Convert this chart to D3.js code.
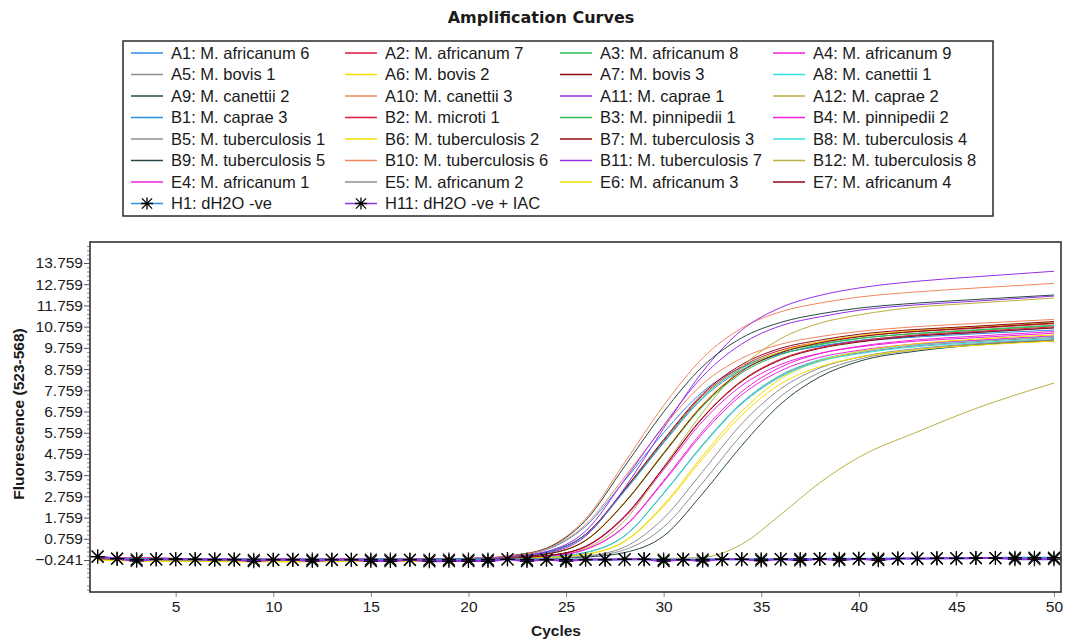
<!DOCTYPE html>
<html>
<head>
<meta charset="utf-8">
<script src="https://cdn.jsdelivr.net/npm/d3@7"></script>
<style>
  body { margin: 0; background: #fff; }
  text { font-family: "Liberation Sans", Arial, sans-serif; fill: #1a1a1a; }
</style>
</head>
<body>
<svg id="chart" width="1066" height="641"></svg>
<script>
"use strict";

const cycles = [1, 5, 10, 15, 20, 22, 24, 26, 28, 30, 32, 34, 36, 38, 40, 43, 46, 50];

const sampleNames = [
  'A1: M. africanum 6', 'A2: M. africanum 7', 'A3: M. africanum 8', 'A4: M. africanum 9',
  'A5: M. bovis 1', 'A6: M. bovis 2', 'A7: M. bovis 3', 'A8: M. canettii 1',
  'A9: M. canettii 2', 'A10: M. canettii 3', 'A11: M. caprae 1', 'A12: M. caprae 2',
  'B1: M. caprae 3', 'B2: M. microti 1', 'B3: M. pinnipedii 1', 'B4: M. pinnipedii 2',
  'B5: M. tuberculosis 1', 'B6: M. tuberculosis 2', 'B7: M. tuberculosis 3', 'B8: M. tuberculosis 4',
  'B9: M. tuberculosis 5', 'B10: M. tuberculosis 6', 'B11: M. tuberculosis 7', 'B12: M. tuberculosis 8',
  'E4: M. africanum 1', 'E5: M. africanum 2', 'E6: M. africanum 3', 'E7: M. africanum 4'
];

// fluorescence per sample, one value per entry of `cycles`
const sampleValues = [
  [-0.14, -0.19, -0.20, -0.21, -0.19, -0.07, 0.25, 1.35, 3.50, 5.76, 7.69, 8.85, 9.49, 9.83, 10.06, 10.27, 10.42, 10.60],
  [-0.18, -0.22, -0.23, -0.22, -0.20, -0.09, 0.12, 0.96, 3.06, 5.38, 7.52, 8.88, 9.65, 10.03, 10.30, 10.53, 10.68, 10.90],
  [-0.12, -0.17, -0.18, -0.19, -0.17, -0.10, 0.12, 0.95, 3.03, 5.33, 7.45, 8.80, 9.56, 9.94, 10.21, 10.43, 10.58, 10.80],
  [-0.14, -0.19, -0.20, -0.21, -0.19, -0.15, -0.04, 0.38, 1.77, 4.01, 6.30, 7.98, 8.98, 9.50, 9.80, 10.08, 10.24, 10.45],
  [-0.18, -0.22, -0.23, -0.22, -0.20, -0.17, -0.15, -0.07, 0.24, 1.31, 3.40, 5.67, 7.47, 8.60, 9.22, 9.67, 9.92, 10.12],
  [-0.25, -0.30, -0.32, -0.31, -0.28, -0.12, 0.04, 0.69, 2.48, 4.82, 7.10, 8.69, 9.57, 10.04, 10.33, 10.59, 10.76, 10.98],
  [-0.12, -0.17, -0.18, -0.19, -0.17, -0.09, 0.13, 0.97, 3.09, 5.43, 7.59, 8.97, 9.74, 10.12, 10.40, 10.63, 10.78, 11.00],
  [-0.14, -0.19, -0.20, -0.21, -0.19, -0.15, -0.10, 0.11, 0.90, 2.92, 5.20, 7.18, 8.48, 9.20, 9.57, 9.91, 10.10, 10.30],
  [-0.18, -0.22, -0.23, -0.22, -0.20, -0.16, -0.15, -0.10, 0.11, 0.89, 2.89, 5.15, 7.11, 8.39, 9.12, 9.61, 9.89, 10.09],
  [-0.12, -0.17, -0.18, -0.19, -0.17, -0.05, 0.33, 1.70, 4.35, 7.04, 9.28, 10.69, 11.46, 11.87, 12.15, 12.40, 12.58, 12.80],
  [-0.14, -0.19, -0.20, -0.21, -0.19, -0.11, 0.08, 0.88, 3.15, 5.96, 8.64, 10.59, 11.66, 12.23, 12.58, 12.90, 13.11, 13.37],
  [-0.18, -0.22, -0.23, -0.22, -0.20, -0.15, -0.06, 0.31, 1.61, 4.15, 6.71, 8.85, 10.19, 10.92, 11.31, 11.68, 11.87, 12.11],
  [-0.12, -0.17, -0.18, -0.19, -0.17, -0.10, 0.12, 0.94, 3.00, 5.28, 7.38, 8.72, 9.47, 9.84, 10.11, 10.34, 10.49, 10.70],
  [-0.14, -0.19, -0.20, -0.21, -0.19, -0.15, -0.04, 0.40, 1.82, 4.12, 6.48, 8.21, 9.23, 9.77, 10.08, 10.37, 10.53, 10.75],
  [-0.18, -0.22, -0.23, -0.22, -0.20, -0.12, 0.04, 0.67, 2.44, 4.75, 7.00, 8.57, 9.44, 9.90, 10.19, 10.45, 10.61, 10.83],
  [-0.12, -0.17, -0.18, -0.19, -0.17, -0.15, -0.07, 0.25, 1.33, 3.44, 5.72, 7.54, 8.68, 9.31, 9.64, 9.95, 10.12, 10.33],
  [-0.14, -0.19, -0.20, -0.21, -0.19, -0.15, -0.10, 0.11, 0.90, 2.90, 5.18, 7.14, 8.44, 9.16, 9.52, 9.86, 10.05, 10.25],
  [-0.25, -0.30, -0.32, -0.31, -0.28, -0.15, -0.12, 0.03, 0.65, 2.36, 4.67, 6.77, 8.30, 9.14, 9.58, 9.96, 10.17, 10.37],
  [-0.12, -0.17, -0.18, -0.19, -0.17, -0.12, 0.04, 0.68, 2.46, 4.79, 7.06, 8.65, 9.53, 9.99, 10.28, 10.54, 10.71, 10.93],
  [-0.14, -0.19, -0.20, -0.21, -0.19, -0.15, -0.10, 0.11, 0.89, 2.89, 5.15, 7.11, 8.39, 9.12, 9.48, 9.82, 10.00, 10.20],
  [-0.18, -0.22, -0.23, -0.22, -0.20, -0.06, 0.31, 1.62, 4.17, 6.74, 8.88, 10.23, 10.96, 11.36, 11.63, 11.87, 12.04, 12.25],
  [-0.12, -0.17, -0.18, -0.19, -0.17, -0.07, 0.28, 1.42, 3.67, 6.04, 8.05, 9.27, 9.93, 10.29, 10.53, 10.76, 10.91, 11.10],
  [-0.14, -0.19, -0.20, -0.21, -0.19, -0.09, 0.16, 1.12, 3.54, 6.10, 8.42, 9.94, 10.80, 11.22, 11.53, 11.79, 11.96, 12.20],
  [-0.22, -0.26, -0.27, -0.26, -0.24, -0.20, -0.20, -0.20, -0.20, -0.17, -0.12, 0.50, 1.90, 3.40, 4.60, 5.80, 6.90, 8.10],
  [-0.12, -0.17, -0.18, -0.19, -0.17, -0.15, -0.07, 0.26, 1.35, 3.50, 5.83, 7.69, 8.85, 9.49, 9.83, 10.14, 10.31, 10.53],
  [-0.14, -0.19, -0.20, -0.21, -0.19, -0.15, -0.15, -0.05, 0.37, 1.73, 3.93, 6.18, 7.83, 8.81, 9.32, 9.73, 9.95, 10.15],
  [-0.25, -0.30, -0.32, -0.31, -0.28, -0.15, -0.12, 0.03, 0.63, 2.29, 4.54, 6.58, 8.06, 8.87, 9.31, 9.68, 9.88, 10.08],
  [-0.18, -0.22, -0.23, -0.22, -0.20, -0.15, -0.04, 0.40, 1.82, 4.10, 6.45, 8.17, 9.19, 9.73, 10.03, 10.32, 10.48, 10.70]
];

const controlNames = ['H1: dH2O -ve', 'H11: dH2O -ve + IAC'];
const controlCycles = [
  1, 2, 3, 4, 5, 6, 7, 8, 9, 10, 11, 12, 13, 14, 15, 16, 17, 18, 19, 20, 21, 22, 23, 24, 25,
  26, 27, 28, 29, 30, 31, 32, 33, 34, 35, 36, 37, 38, 39, 40, 41, 42, 43, 44, 45, 46, 47, 48, 49, 50
];
const h1Values = [
  -0.08, -0.18, -0.21, -0.21, -0.20, -0.21, -0.22, -0.22, -0.23, -0.23,
  -0.23, -0.22, -0.23, -0.23, -0.22, -0.22, -0.23, -0.23, -0.22, -0.22,
  -0.22, -0.21, -0.22, -0.22, -0.22, -0.22, -0.22, -0.21, -0.21, -0.22,
  -0.22, -0.21, -0.21, -0.21, -0.20, -0.20, -0.19, -0.19, -0.18, -0.18,
  -0.18, -0.17, -0.17, -0.16, -0.16, -0.15, -0.15, -0.13, -0.13, -0.13
];
const h11Values = [
  -0.08, -0.18, -0.28, -0.21, -0.20, -0.21, -0.22, -0.22, -0.30, -0.23,
  -0.23, -0.29, -0.23, -0.23, -0.29, -0.29, -0.23, -0.30, -0.29, -0.29,
  -0.29, -0.21, -0.29, -0.22, -0.29, -0.22, -0.22, -0.21, -0.21, -0.29,
  -0.22, -0.28, -0.21, -0.21, -0.27, -0.20, -0.26, -0.19, -0.25, -0.18,
  -0.25, -0.17, -0.17, -0.16, -0.16, -0.15, -0.15, -0.20, -0.20, -0.20
];

const yTicks = [-0.241, 0.759, 1.759, 2.759, 3.759, 4.759, 5.759, 6.759, 7.759,
                8.759, 9.759, 10.759, 11.759, 12.759, 13.759];
const xTicks = [5, 10, 15, 20, 25, 30, 35, 40, 45, 50];

// line colour goes by well column
const columnColors = {
  1: '#2f8fe0', 2: '#e0163c', 3: '#2dba55', 4: '#ee22dd',
  5: '#8e8e8e', 6: '#f2dc00', 7: '#8b0a14', 8: '#33dcdc',
  9: '#274848', 10: '#f4845c', 11: '#9530e6', 12: '#b9b040'
};
const colorOf = name => columnColors[+name.match(/^[A-H](\d+)/)[1]];

const WIDTH = 1066
    , PLOT = { left: 90, top: 242, right: 1061, bottom: 592 }

const svg = d3.select('#chart');

/*
 * Title
 ***/
svg.append('text')
  .attr('x', 541)
  .attr('y', 23)
  .attr('text-anchor', 'middle')
  .style('font-family', '"DejaVu Sans", sans-serif')
  .style('font-weight', 'bold')
  .style('font-size', '16px')
  .text('Amplification Curves');

/*
 * Scales
 ***/
const x = d3.scaleLinear()
  .domain([0.61, 50.36])
  .range([PLOT.left, PLOT.right]);

const y = d3.scaleLinear()
  .domain([-1.749, 14.749])
  .range([PLOT.bottom, PLOT.top]);

/*
 * Asterisk marker used by the negative controls
 ***/
function asterisk(r) {
  const d = r * 0.85;
  return `M0,${-r}V${r}M${-r},0H${r}M${-d},${-d}L${d},${d}M${-d},${d}L${d},${-d}`;
}

/*
 * Legend
 ***/
const LEG = { x: 123, y: 41, w: 870, h: 175, row0: 53, rowH: 21.5, cols: [131, 345, 560, 773] };

svg.append('rect')
  .attr('x', LEG.x)
  .attr('y', LEG.y)
  .attr('width', LEG.w)
  .attr('height', LEG.h)
  .attr('fill', 'none')
  .attr('stroke', '#2a2a2a')
  .attr('stroke-width', 1.5);

const legendItems = sampleNames.map(name => ({ name, color: colorOf(name), marker: false }))
  .concat(controlNames.map(name => ({ name, color: colorOf(name), marker: true })));

const legendG = svg.append('g').selectAll('g')
  .data(legendItems)
  .enter()
  .append('g')
  .attr('transform', (d, i) =>
    `translate(${LEG.cols[i % 4]},${LEG.row0 + Math.floor(i / 4) * LEG.rowH})`);

legendG.append('line')
  .attr('x1', 0).attr('x2', 32)
  .attr('stroke', d => d.color)
  .attr('stroke-width', 1.5);

legendG.filter(d => d.marker)
  .append('path')
  .attr('transform', 'translate(16,0)')
  .attr('d', asterisk(6))
  .attr('stroke', '#000')
  .attr('stroke-width', 1.3);

legendG.append('text')
  .attr('x', 40)
  .attr('dy', '0.36em')
  .style('font-size', '16.5px')
  .text(d => d.name);

/*
 * Axes
 ***/
const yMinor = d3.range(-1.641, 14.7, 0.2).filter(v => Math.abs(((v + 0.241) % 1 + 1) % 1) > 0.05 &&
  Math.abs(((v + 0.241) % 1 + 1) % 1 - 1) > 0.05);

svg.append('g')
  .attr('transform', `translate(${PLOT.left},0)`)
  .call(d3.axisLeft(y).tickValues(yMinor).tickSize(3).tickFormat(''))
  .call(g => g.select('.domain').remove())
  .call(g => g.selectAll('line').attr('stroke', '#888'));

svg.append('g')
  .attr('transform', `translate(${PLOT.left},0)`)
  .call(d3.axisLeft(y).tickValues(yTicks).tickSize(6).tickPadding(1).tickFormat(d3.format('.3f')))
  .call(g => g.select('.domain').remove())
  .call(g => g.selectAll('line').attr('stroke', '#555'))
  .call(g => g.selectAll('text')
    .style('font-size', '15.5px')
    .style('font-family', '"Liberation Sans", Arial, sans-serif')
    .attr('fill', '#1a1a1a'));

svg.append('g')
  .attr('transform', `translate(0,${PLOT.bottom})`)
  .call(d3.axisBottom(x).tickValues(xTicks).tickSize(5).tickPadding(4))
  .call(g => g.select('.domain').remove())
  .call(g => g.selectAll('line').attr('stroke', '#888'))
  .call(g => g.selectAll('text')
    .style('font-size', '15.5px')
    .style('font-family', '"Liberation Sans", Arial, sans-serif')
    .attr('fill', '#1a1a1a'));

svg.append('text')
  .attr('x', 556)
  .attr('y', 636)
  .attr('text-anchor', 'middle')
  .style('font-weight', 'bold')
  .style('font-size', '15.5px')
  .text('Cycles');

svg.append('text')
  .attr('transform', 'translate(24,414) rotate(-90)')
  .attr('text-anchor', 'middle')
  .style('font-weight', 'bold')
  .style('font-size', '15.5px')
  .text('Fluorescence (523-568)');

/*
 * Curves
 ***/
svg.append('clipPath')
  .attr('id', 'plot-clip')
  .append('rect')
  .attr('x', PLOT.left)
  .attr('y', PLOT.top)
  .attr('width', PLOT.right - PLOT.left)
  .attr('height', PLOT.bottom - PLOT.top);

const plotG = svg.append('g').attr('clip-path', 'url(#plot-clip)');

const line = d3.line()
  .x(d => x(d[0]))
  .y(d => y(d[1]))
  .curve(d3.curveMonotoneX);

plotG.selectAll('path.sample')
  .data(sampleNames)
  .enter()
  .append('path')
  .attr('class', 'sample')
  .attr('fill', 'none')
  .attr('stroke', d => colorOf(d))
  .attr('stroke-width', 1)
  .attr('d', (d, i) => line(d3.zip(cycles, sampleValues[i])));

const controls = [
  { name: controlNames[0], values: h1Values },
  { name: controlNames[1], values: h11Values }
];

controls.forEach(c => {
  plotG.append('path')
    .attr('fill', 'none')
    .attr('stroke', colorOf(c.name))
    .attr('stroke-width', 2)
    .attr('d', line(d3.zip(controlCycles, c.values)));
});

controls.forEach(c => {
  const pts = d3.zip(controlCycles, c.values);
  const m = plotG.append('g').selectAll('g')
    .data(pts)
    .enter()
    .append('g')
    .attr('transform', d => `translate(${x(d[0])},${y(d[1])})`);

  m.append('path')
    .attr('d', asterisk(7))
    .attr('stroke', '#000')
    .attr('stroke-width', 1.2);

  m.append('circle')
    .attr('r', 2)
    .attr('fill', '#000');
});

/*
 * Plot frame
 ***/
svg.append('rect')
  .attr('x', PLOT.left)
  .attr('y', PLOT.top)
  .attr('width', PLOT.right - PLOT.left)
  .attr('height', PLOT.bottom - PLOT.top)
  .attr('fill', 'none')
  .attr('stroke', '#333')
  .attr('stroke-width', 1.6);
</script>
</body>
</html>
